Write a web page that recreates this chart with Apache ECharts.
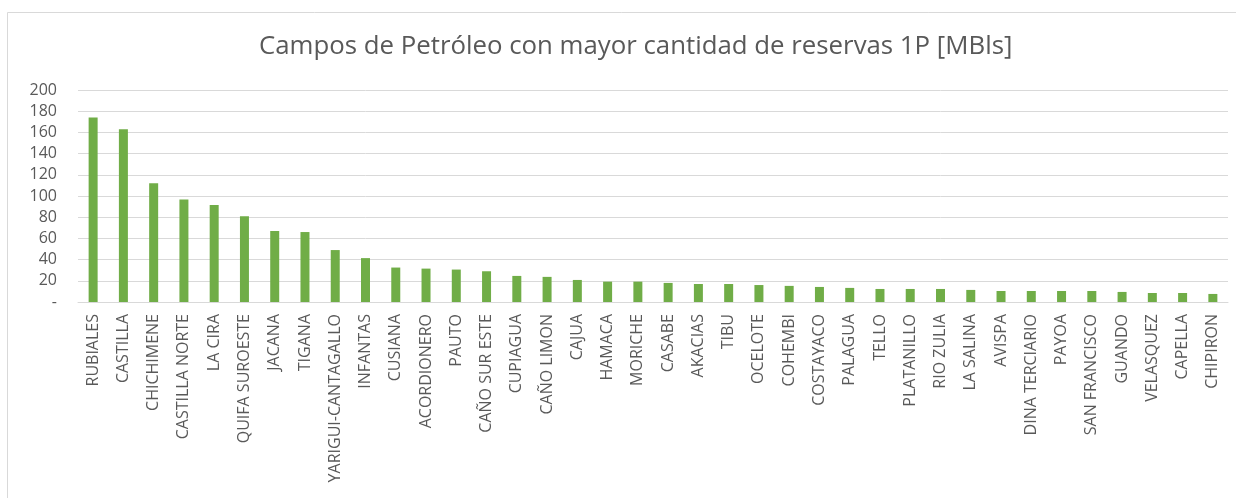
<!DOCTYPE html>
<html>
<head>
<meta charset="utf-8">
<script src="https://cdn.jsdelivr.net/npm/echarts@6/dist/echarts.min.js"></script>
<style>
  html, body { margin: 0; padding: 0; background: #fff; }
  #chart { width: 1236px; height: 498px; }
</style>
</head>
<body>
<div id="chart"></div>
<script>
var campos = [
  'RUBIALES', 'CASTILLA', 'CHICHIMENE', 'CASTILLA NORTE', 'LA CIRA', 'QUIFA SUROESTE',
  'JACANA', 'TIGANA', 'YARIGUI-CANTAGALLO', 'INFANTAS', 'CUSIANA', 'ACORDIONERO',
  'PAUTO', 'CAÑO SUR ESTE', 'CUPIAGUA', 'CAÑO LIMON', 'CAJUA', 'HAMACA', 'MORICHE',
  'CASABE', 'AKACIAS', 'TIBU', 'OCELOTE', 'COHEMBI', 'COSTAYACO', 'PALAGUA', 'TELLO',
  'PLATANILLO', 'RIO ZULIA', 'LA SALINA', 'AVISPA', 'DINA TERCIARIO', 'PAYOA',
  'SAN FRANCISCO', 'GUANDO', 'VELASQUEZ', 'CAPELLA', 'CHIPIRON'
]
var reservas = [
  174, 163, 112, 96.7, 91.6, 81,
  67, 66, 49, 41.4, 32.5, 31.5,
  30.6, 29, 24.6, 23.7, 20.8, 19.2, 19.2,
  18, 17, 17, 16, 15.2, 14.2, 13.3, 12.3,
  12.3, 12.3, 11.4, 10.4, 10.4, 10.4,
  10.4, 9.5, 8.5, 8.5, 7.6
]
var titulo = 'Campos de Petróleo con mayor cantidad de reservas 1P [MBls]'

var font = 'Open Sans'

var option = {
  backgroundColor: '#fff',
  animation: false,
  title: {
    text: titulo,
    left: 254,
    top: 29,
    textStyle: {
      color: '#595959',
      fontFamily: font,
      fontSize: 25.8,
      fontWeight: 'normal'
    }
  },
  graphic: [
    {
      type: 'polyline',
      shape: { points: [[7.5, 498], [7.5, 12.5], [1236, 12.5]] },
      style: { stroke: '#d9d9d9', lineWidth: 1, fill: null }
    }
  ],
  grid: {
    left: 78,
    right: 8,
    top: 90,
    bottom: 196
  },
  xAxis: {
    type: 'category',
    data: campos,
    axisLine: { lineStyle: { color: '#d9d9d9' } },
    axisTick: { show: false },
    axisLabel: {
      interval: 0,
      rotate: 90,
      margin: 12,
      color: '#595959',
      fontFamily: font,
      fontSize: 16
    }
  },
  yAxis: {
    type: 'value',
    min: 0,
    max: 200,
    interval: 20,
    axisLine: { show: false },
    axisTick: { show: false },
    splitLine: { lineStyle: { color: '#d9d9d9' } },
    axisLabel: {
      margin: 21,
      color: '#595959',
      fontFamily: font,
      fontSize: 16,
      formatter: function (v) { return v === 0 ? '-' : v }
    }
  },
  series: [
    {
      type: 'bar',
      data: reservas,
      barWidth: 9,
      itemStyle: { color: '#70ad47' }
    }
  ]
}

var chart = echarts.init(document.getElementById('chart'))
chart.setOption(option)
</script>
</body>
</html>
